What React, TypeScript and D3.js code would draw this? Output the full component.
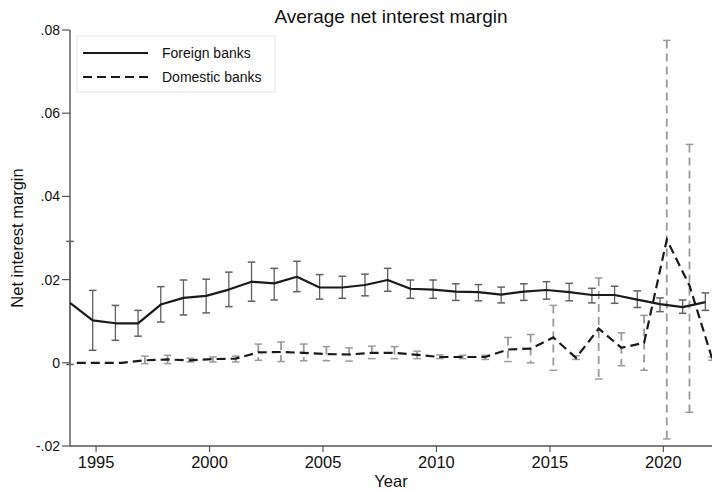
import { useEffect, useRef } from "react";
import * as d3 from "d3";

// years and series
const years = [
  1994, 1995, 1996, 1997, 1998, 1999, 2000, 2001, 2002, 2003, 2004, 2005, 2006, 2007, 2008,
  2009, 2010, 2011, 2012, 2013, 2014, 2015, 2016, 2017, 2018, 2019, 2020, 2021, 2022,
];

const foreignMean = [
  0.0144, 0.0102, 0.0095, 0.0095, 0.014, 0.0156, 0.0161, 0.0176, 0.0195, 0.0191, 0.0207, 0.0181,
  0.0181, 0.0187, 0.0199, 0.0178, 0.0176, 0.0171, 0.017, 0.0164, 0.0171, 0.0175, 0.017, 0.0163,
  0.0163, 0.0152, 0.0141, 0.0134, 0.0146,
];
const foreignLow = [
  -0.0004, 0.003, 0.0054, 0.0064, 0.0098, 0.0115, 0.012, 0.0135, 0.0148, 0.0151, 0.0171, 0.0153,
  0.0155, 0.0161, 0.0172, 0.0155, 0.0155, 0.015, 0.0149, 0.0144, 0.015, 0.0153, 0.0149, 0.0144,
  0.0143, 0.0133, 0.0123, 0.0119, 0.0126,
];
const foreignHigh = [
  0.0292, 0.0174, 0.0138, 0.0126, 0.0183, 0.0199, 0.0201, 0.0218, 0.0242, 0.0227, 0.0244, 0.0212,
  0.0208, 0.0213, 0.0227, 0.0199, 0.0199, 0.019, 0.0188, 0.0182, 0.019, 0.0195, 0.0191, 0.0179,
  0.0184, 0.0173, 0.0156, 0.0151, 0.0168,
];

const domesticMean = [
  0, 0, 0, 0.0006, 0.0008, 0.0006, 0.0009, 0.001, 0.0025, 0.0026, 0.0024, 0.0021, 0.002, 0.0024,
  0.0024, 0.0019, 0.0014, 0.0014, 0.0014, 0.0032, 0.0034, 0.0061, 0.0012, 0.0082, 0.0036, 0.0048,
  0.0296, 0.0186, 0.001,
];
const domesticLow = [
  null, null, null, -0.0002, -0.0002, 0.0002, 0.0002, 0.0002, 0.0006, 0.0003, 0.0005, 0.0005,
  0.0004, 0.001, 0.001, 0.001, 0.001, 0.001, 0.0008, 0.0003, 0.0, -0.0018, 0.0008, -0.0039,
  -0.0007, -0.0018, -0.0183, -0.0119, 0.0006,
];
const domesticHigh = [
  null, null, null, 0.0016, 0.0018, 0.0011, 0.0014, 0.0016, 0.0045, 0.005, 0.0045, 0.0039, 0.0036,
  0.004, 0.0039, 0.0028, 0.0019, 0.0018, 0.0018, 0.0061, 0.0068, 0.0138, 0.0017, 0.0204, 0.0072,
  0.0114, 0.0775, 0.0525, 0.0014,
];

const yTicks = [-0.02, 0, 0.02, 0.04, 0.06, 0.08];
const yTickLabels = ["-.02", "0", ".02", ".04", ".06", ".08"];
const xTicks = [1995, 2000, 2005, 2010, 2015, 2020];
const legendLabels = ["Foreign banks", "Domestic banks"];

const W = 712;
const H = 491;
const FONT = "Liberation Sans, Arial, sans-serif";
const OFFSET = 0.15; // series are nudged apart on the year axis

type Pt = { x: number; m: number; lo: number | null; hi: number | null };

export default function App() {
  const svgRef = useRef<SVGSVGElement>(null);

  useEffect(() => {
    if (!svgRef.current) return;
    const svg = d3.select(svgRef.current);
    svg.selectAll("*").remove();

    const x = d3.scaleLinear().domain([1993.85, 2022.2]).range([70, 713.3]);
    const y = d3.scaleLinear().domain([-0.02, 0.08]).range([446, 30]);

    const foreign: Pt[] = years.map((yr, i) => ({
      x: yr - OFFSET,
      m: foreignMean[i],
      lo: foreignLow[i],
      hi: foreignHigh[i],
    }));
    const domestic: Pt[] = years.map((yr, i) => ({
      x: yr + OFFSET,
      m: domesticMean[i],
      lo: domesticLow[i],
      hi: domesticHigh[i],
    }));

    svg.append("rect").attr("width", W).attr("height", H).attr("fill", "#fff");

    // title
    svg
      .append("text")
      .attr("x", 391)
      .attr("y", 23)
      .attr("text-anchor", "middle")
      .attr("font-family", FONT)
      .attr("font-size", 19)
      .attr("fill", "#111")
      .text("Average net interest margin");

    // axes
    const axisColor = "#555";
    svg
      .append("line")
      .attr("x1", x.range()[0])
      .attr("x2", x.range()[0])
      .attr("y1", y(0.08))
      .attr("y2", y(-0.02))
      .attr("stroke", axisColor)
      .attr("stroke-width", 1.4);
    svg
      .append("line")
      .attr("x1", x.range()[0])
      .attr("x2", W)
      .attr("y1", y(-0.02))
      .attr("y2", y(-0.02))
      .attr("stroke", axisColor)
      .attr("stroke-width", 1.4);

    yTicks.forEach((t, i) => {
      svg
        .append("line")
        .attr("x1", 62)
        .attr("x2", 70)
        .attr("y1", y(t))
        .attr("y2", y(t))
        .attr("stroke", axisColor)
        .attr("stroke-width", 1.2);
      svg
        .append("text")
        .attr("x", 60)
        .attr("y", y(t))
        .attr("dy", "0.35em")
        .attr("text-anchor", "end")
        .attr("font-family", FONT)
        .attr("font-size", 14)
        .attr("fill", "#111")
        .text(yTickLabels[i]);
    });

    xTicks.forEach((t) => {
      svg
        .append("line")
        .attr("x1", x(t))
        .attr("x2", x(t))
        .attr("y1", 446)
        .attr("y2", 452)
        .attr("stroke", axisColor)
        .attr("stroke-width", 1.2);
      svg
        .append("text")
        .attr("x", x(t))
        .attr("y", 468)
        .attr("text-anchor", "middle")
        .attr("font-family", FONT)
        .attr("font-size", 16.5)
        .attr("fill", "#111")
        .text(String(t));
    });

    svg
      .append("text")
      .attr("x", 391)
      .attr("y", 487)
      .attr("text-anchor", "middle")
      .attr("font-family", FONT)
      .attr("font-size", 16.5)
      .attr("fill", "#111")
      .text("Year");

    svg
      .append("text")
      .attr("transform", `translate(23,238) rotate(-90)`)
      .attr("text-anchor", "middle")
      .attr("font-family", FONT)
      .attr("font-size", 16.5)
      .attr("fill", "#111")
      .text("Net interest margin");

    // error bars
    const drawBars = (pts: Pt[], color: string, width: number, dash: string | null) => {
      pts.forEach((p) => {
        if (p.lo == null || p.hi == null) return;
        const cx = x(p.x);
        const bar = svg.append("g");
        bar
          .append("line")
          .attr("x1", cx)
          .attr("x2", cx)
          .attr("y1", y(p.hi))
          .attr("y2", y(p.lo))
          .attr("stroke", color)
          .attr("stroke-width", width)
          .attr("stroke-dasharray", dash);
        [p.lo, p.hi].forEach((v) => {
          bar
            .append("line")
            .attr("x1", cx - 3.8)
            .attr("x2", cx + 3.8)
            .attr("y1", y(v))
            .attr("y2", y(v))
            .attr("stroke", color)
            .attr("stroke-width", 1.5);
        });
      });
    };
    drawBars(foreign, "#606060", 1.3, null);
    drawBars(domestic, "#9a9a9a", 1.8, "8 5");

    const line = d3
      .line<Pt>()
      .x((d) => x(d.x))
      .y((d) => y(d.m));

    svg
      .append("path")
      .datum(foreign)
      .attr("d", line)
      .attr("fill", "none")
      .attr("stroke", "#1a1a1a")
      .attr("stroke-width", 2.2)
      .attr("stroke-linejoin", "round");

    svg
      .append("path")
      .datum(domestic)
      .attr("d", line)
      .attr("fill", "none")
      .attr("stroke", "#1a1a1a")
      .attr("stroke-width", 2.2)
      .attr("stroke-dasharray", "9 5");

    // legend
    const lg = svg.append("g");
    lg.append("rect")
      .attr("x", 77)
      .attr("y", 36)
      .attr("width", 198)
      .attr("height", 56)
      .attr("fill", "#fff")
      .attr("stroke", "#e4e4e4")
      .attr("stroke-width", 1);
    legendLabels.forEach((label, i) => {
      const ly = 53 + i * 24;
      lg.append("line")
        .attr("x1", 83)
        .attr("x2", 148)
        .attr("y1", ly)
        .attr("y2", ly)
        .attr("stroke", "#1a1a1a")
        .attr("stroke-width", 2.2)
        .attr("stroke-dasharray", i === 0 ? null : "9 5");
      lg.append("text")
        .attr("x", 162)
        .attr("y", ly)
        .attr("dy", "0.35em")
        .attr("font-family", FONT)
        .attr("font-size", 14)
        .attr("fill", "#111")
        .text(label);
    });
  }, []);

  return (
    <svg
      ref={svgRef}
      width={W}
      height={H}
      style={{ position: "fixed", left: 0, top: 0, display: "block" }}
    />
  );
}
